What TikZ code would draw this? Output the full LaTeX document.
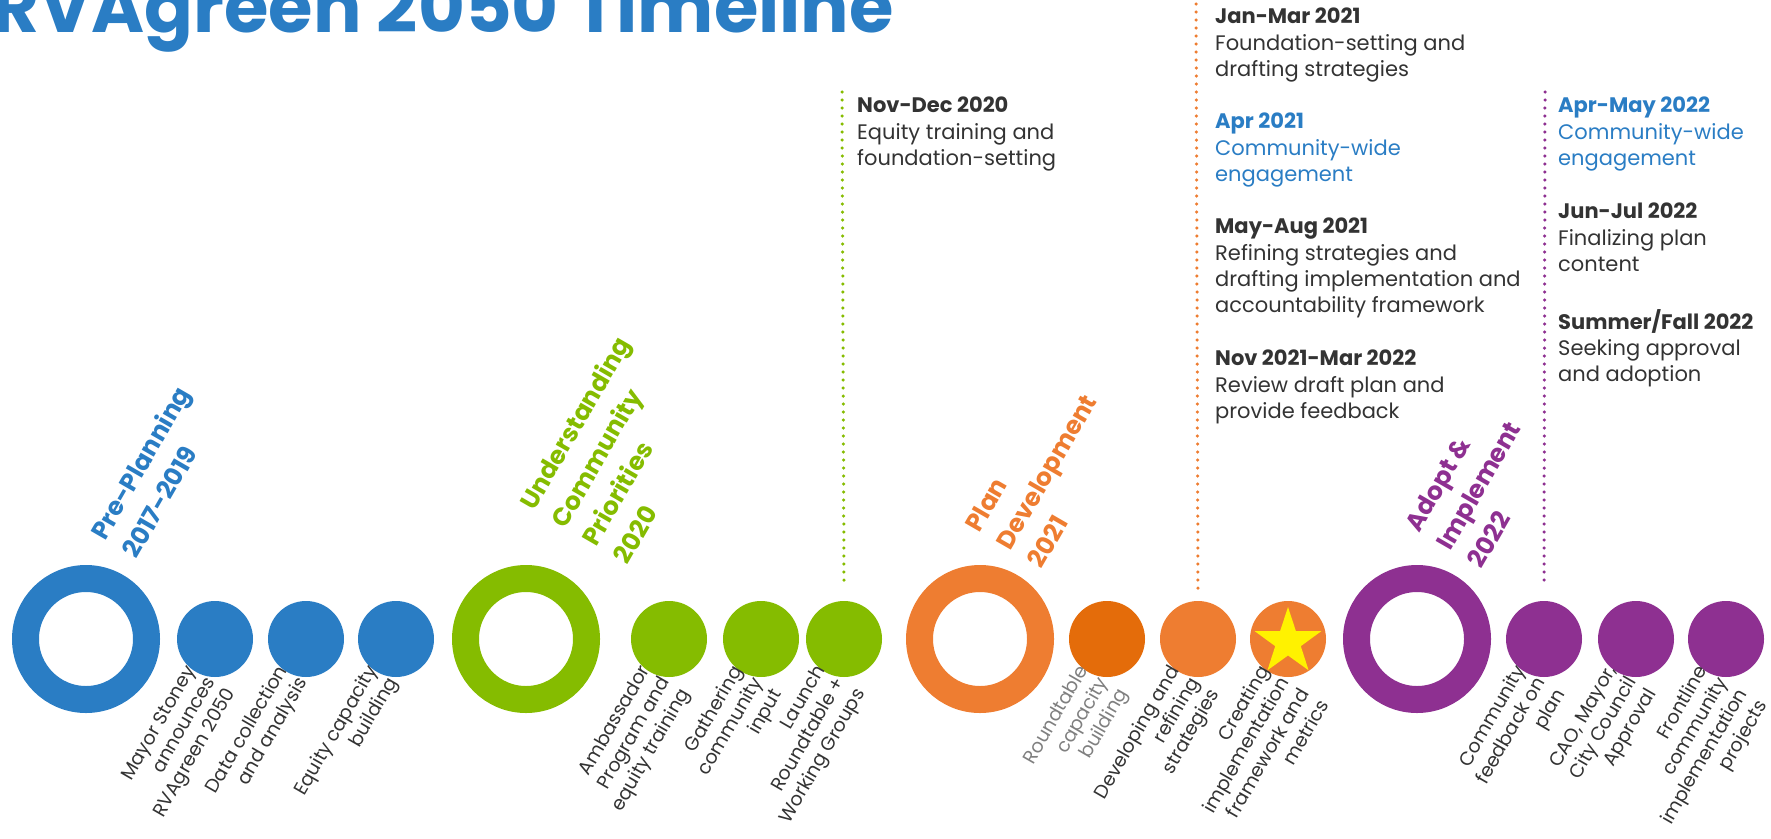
\documentclass[tikz,border=0pt]{standalone}
\usepackage{fontspec}
\setmainfont{Poppins}
\usetikzlibrary{shapes.geometric}
\definecolor{rvblue}{HTML}{2A7DC4}
\definecolor{rvgreen}{HTML}{85BC00}
\definecolor{rvorange}{HTML}{EE7D31}
\definecolor{rvdarkorange}{HTML}{E46C0A}
\definecolor{rvpurple}{HTML}{8E3091}
\definecolor{rvtext}{HTML}{333333}
\definecolor{rvgray}{HTML}{7F7F7F}
\tikzset{ring/.style={circle, line width=27pt, minimum size=121pt, inner sep=0pt},
 dot/.style={circle, minimum size=76pt, inner sep=0pt},
 phase/.style={rotate=60, anchor=south west, align=left, inner sep=0pt,
   font=\bfseries\fontsize{25}{36}\selectfont},
 item/.style={rotate=60, anchor=north east, align=right, inner sep=0pt,
   font=\fontsize{19}{23}\selectfont},
 note/.style={anchor=north west, align=left, inner sep=0pt, text=rvtext,
   font=\fontsize{21}{26.3}\selectfont},
 guide/.style={line width=3.5pt, line cap=round, dash pattern=on 0pt off 8pt},
 }

\begin{document}
\begin{tikzpicture}[x=1pt, y=-1pt]
    \useasboundingbox (0,0) rectangle (1771,838);
    \clip (0,0) rectangle (1771,838);
    \node[anchor=base west, inner sep=0pt, text=rvblue,
        font=\bfseries\fontsize{72}{72}\selectfont] (title) at (-8,32) {RVAgreen 2050 Timeline};

    % phases
    \foreach \n/\x/\c in {pre/86/rvblue, ucp/526/rvgreen, plan/980/rvorange, adopt/1417/rvpurple}
        \node[ring, draw=\c] (\n) at (\x,639) {};
    \node[phase, text=rvblue] (pre txt) at (137,560) {Pre-Planning\\2017-2019};
    \node[phase, text=rvgreen] (ucp txt) at (628,566) {Understanding\\Community\\Priorities\\2020};
    \node[phase, text=rvorange] (plan txt) at (1042,570) {Plan\\Development\\2021};
    \node[phase, text=rvpurple] (adopt txt) at (1482,570) {Adopt \&\\Implement\\2022};

    % steps
    \foreach \n/\x/\c/\tc/\t in {
        pre1/215/rvblue/rvtext/{Mayor Stoney\\announces\\RVAgreen 2050},
        pre2/306/rvblue/rvtext/{Data collection\\and analysis},
        pre3/396/rvblue/rvtext/{Equity capacity\\building},
        ucp1/669/rvgreen/rvtext/{Ambassador\\Program and\\equity training},
        ucp2/761/rvgreen/rvtext/{Gathering\\community\\input},
        ucp3/844/rvgreen/rvtext/{Launch\\Roundtable +\\Working Groups},
        plan1/1107/rvdarkorange/rvgray/{Roundtable\\capacity\\building},
        plan2/1198/rvorange/rvtext/{Developing and\\refining\\strategies},
        plan3/1288/rvorange/rvtext/{Creating\\implementation\\framework and\\metrics},
        adopt1/1544/rvpurple/rvtext/{Community\\feedback on\\plan},
        adopt2/1636/rvpurple/rvtext/{CAO, Mayor,\\City Council\\Approval},
        adopt3/1726/rvpurple/rvtext/{Frontline\\community\\implementation\\projects}} {
        \node[dot, fill=\c] (\n) at (\x,639) {};
        \node[item, text=\tc] (\n txt) at ([xshift=-31pt, yshift=-24pt]\n.center) {\t};
    }
    \node[star, star points=5, star point ratio=2.6, fill=yellow, inner sep=0pt,
        minimum size=70pt] (star) at (1288,642) {};

    % milestones
    \coordinate (g top) at (842,92);
    \coordinate (o top) at (1196,-4);
    \coordinate (p top) at (1545,92);
    \draw[guide, rvgreen] (g top) -- ([yshift=18pt]ucp3.north);
    \draw[guide, rvorange] (o top) -- ([yshift=6pt]plan2.north);
    \draw[guide, rvpurple] (p top) -- ([yshift=18pt]adopt1.north);

    \node[note] (nov20) at (857,97) {\textbf{Nov-Dec 2020}\\Equity training and\\foundation-setting};
    \node[note] (jan21) at (1215,8) {\textbf{Jan-Mar 2021}\\Foundation-setting and\\drafting strategies};
    \node[note, text=rvblue] (apr21) at (1215,113) {\textbf{Apr 2021}\\Community-wide\\engagement};
    \node[note] (may21) at (1215,218) {\textbf{May-Aug 2021}\\Refining strategies and\\drafting implementation and\\accountability framework};
    \node[note] (nov21) at (1215,350) {\textbf{Nov 2021-Mar 2022}\\Review draft plan and\\provide feedback};
    \node[note, text=rvblue] (apr22) at (1558,97) {\textbf{Apr-May 2022}\\Community-wide\\engagement};
    \node[note] (jun22) at (1558,203) {\textbf{Jun-Jul 2022}\\Finalizing plan\\content};
    \node[note] (sum22) at (1558,309) {\textbf{Summer/Fall 2022}\\Seeking approval\\and adoption};
\end{tikzpicture}
\end{document}
